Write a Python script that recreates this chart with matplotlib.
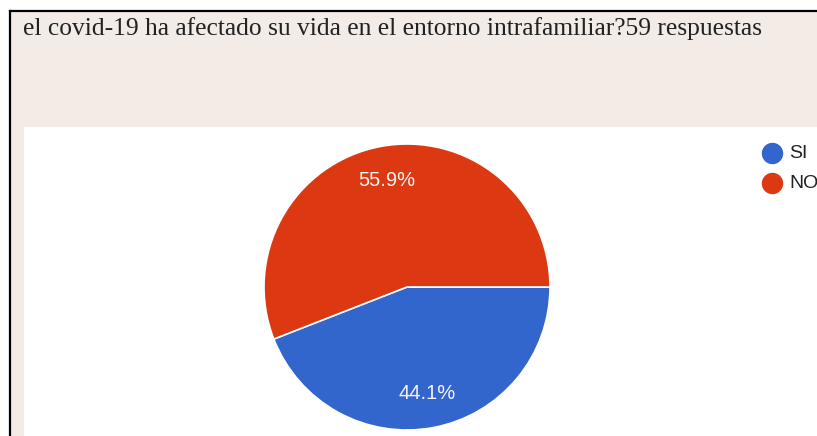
import matplotlib
matplotlib.use("Agg")
import matplotlib.pyplot as plt
from matplotlib.patches import Rectangle

# survey answers (59 responses)
labels = ["SI", "NO"]
counts = [26, 33]
colors = ["#3366CC", "#DC3912"]
title = "el covid-19 ha afectado su vida en el entorno intrafamiliar?59 respuestas"

W, H = 817, 436
fig = plt.figure(figsize=(W / 100, H / 100), dpi=100)
fig.patch.set_facecolor("white")

# background layer in pixel coordinates
bg = fig.add_axes([0, 0, 1, 1])
bg.set_xlim(0, W)
bg.set_ylim(H, 0)
bg.axis("off")
bg.add_patch(Rectangle((10, 11), W, H, facecolor="#F2EBE6", edgecolor="none"))
bg.plot([10, 10], [11, H], color="black", lw=1.6)
bg.plot([10, W], [11, 11], color="black", lw=1.6)
bg.add_patch(Rectangle((24, 127), W, H, facecolor="white", edgecolor="none"))
bg.text(23, 34.5, title, family="Liberation Serif", fontsize=18.4,
        color="#222222", va="baseline", ha="left")

# legend drawn by hand, Google Forms style
for i, (lab, c) in enumerate(zip(labels, colors)):
    y = 153 + 30 * i
    bg.plot(772, y, marker="o", markersize=14.4, color=c, linestyle="none")
    bg.text(789, y, lab, family="Liberation Sans", fontsize=14,
            color="#222222", va="center", ha="left")

# pie
cx, cy, r = 407, 287, 143
ax = fig.add_axes([(cx - r) / W, (H - cy - r) / H, 2 * r / W, 2 * r / H])
wedges, _, autotexts = ax.pie(
    counts, colors=colors, startangle=0, counterclock=False,
    autopct="%1.1f%%", pctdistance=0.76,
    wedgeprops=dict(edgecolor="white", linewidth=1.2),
    textprops=dict(color="#f4f4f4", family="Liberation Sans", fontsize=14.5),
)
ax.set_xlim(-1, 1)
ax.set_ylim(-1, 1)
ax.set_aspect("equal")

fig.savefig("out.png", dpi=100)
